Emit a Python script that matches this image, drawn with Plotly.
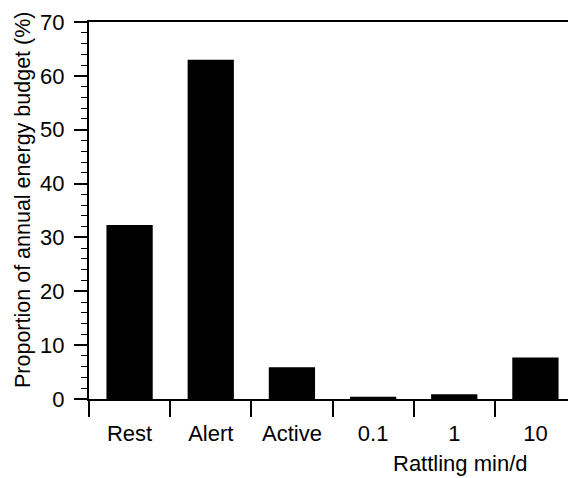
import plotly.graph_objects as go

categories = ["Rest", "Alert", "Active", "0.1", "1", "10"]
values = [32.3, 63.0, 5.9, 0.4, 0.9, 7.7]
y_ticks = [0, 10, 20, 30, 40, 50, 60, 70]

FONT = "Liberation Sans, Arial, Helvetica, sans-serif"
FS = 22

# page body has an 8px offset; compensate in figure size/margins
OFF = 8
L, T, B = 89 - OFF, 22 - OFF, 478 - 399
W, H = 576 - OFF, 478 - OFF
PW, PH = W - L, H - T - B

fig = go.Figure()
fig.add_trace(go.Bar(x=categories, y=values, marker=dict(color="black", line=dict(width=0)),
                     width=0.57))

fig.update_layout(
    width=W, height=H,
    margin=dict(l=L, r=0, t=T, b=B),
    plot_bgcolor="white", paper_bgcolor="white",
    showlegend=False,
    font=dict(family=FONT, size=FS, color="black"),
)
fig.update_xaxes(
    type="category", range=[-0.5, 5.5],
    showline=True, linecolor="black", linewidth=2, mirror=True,
    ticks="outside", tickson="boundaries", ticklen=16, tickwidth=1.5, tickcolor="black",
    showgrid=False, zeroline=False,
    tickfont=dict(family=FONT, size=FS, color="black"),
    ticklabelstandoff=14,
)
fig.update_yaxes(
    range=[0, 70], tickvals=y_ticks,
    showline=True, linecolor="black", linewidth=2,
    ticks="outside", ticklen=13, tickwidth=1.5, tickcolor="black",
    minor=dict(dtick=2, ticks="outside", ticklen=6, tickwidth=1, tickcolor="black", showgrid=False),
    showgrid=False, zeroline=False,
    tickfont=dict(family=FONT, size=FS, color="black"),
    ticklabelstandoff=5,
)
# y-axis title placed at reference position (page px -> paper coords)
fig.add_annotation(text="Proportion of annual energy budget (%)", xref="paper", yref="paper",
                   x=(23 - 89) / PW, y=(399 - 200) / PH, textangle=-90,
                   xanchor="center", yanchor="middle", showarrow=False,
                   font=dict(family=FONT, size=21.5, color="black"))
fig.add_annotation(text="Rattling min/d", xref="paper", yref="paper",
                   x=(460 - 89) / PW, y=-(463 - 399) / PH, xanchor="center", yanchor="middle",
                   showarrow=False, font=dict(family=FONT, size=FS, color="black"))

fig.write_html("out.html")
